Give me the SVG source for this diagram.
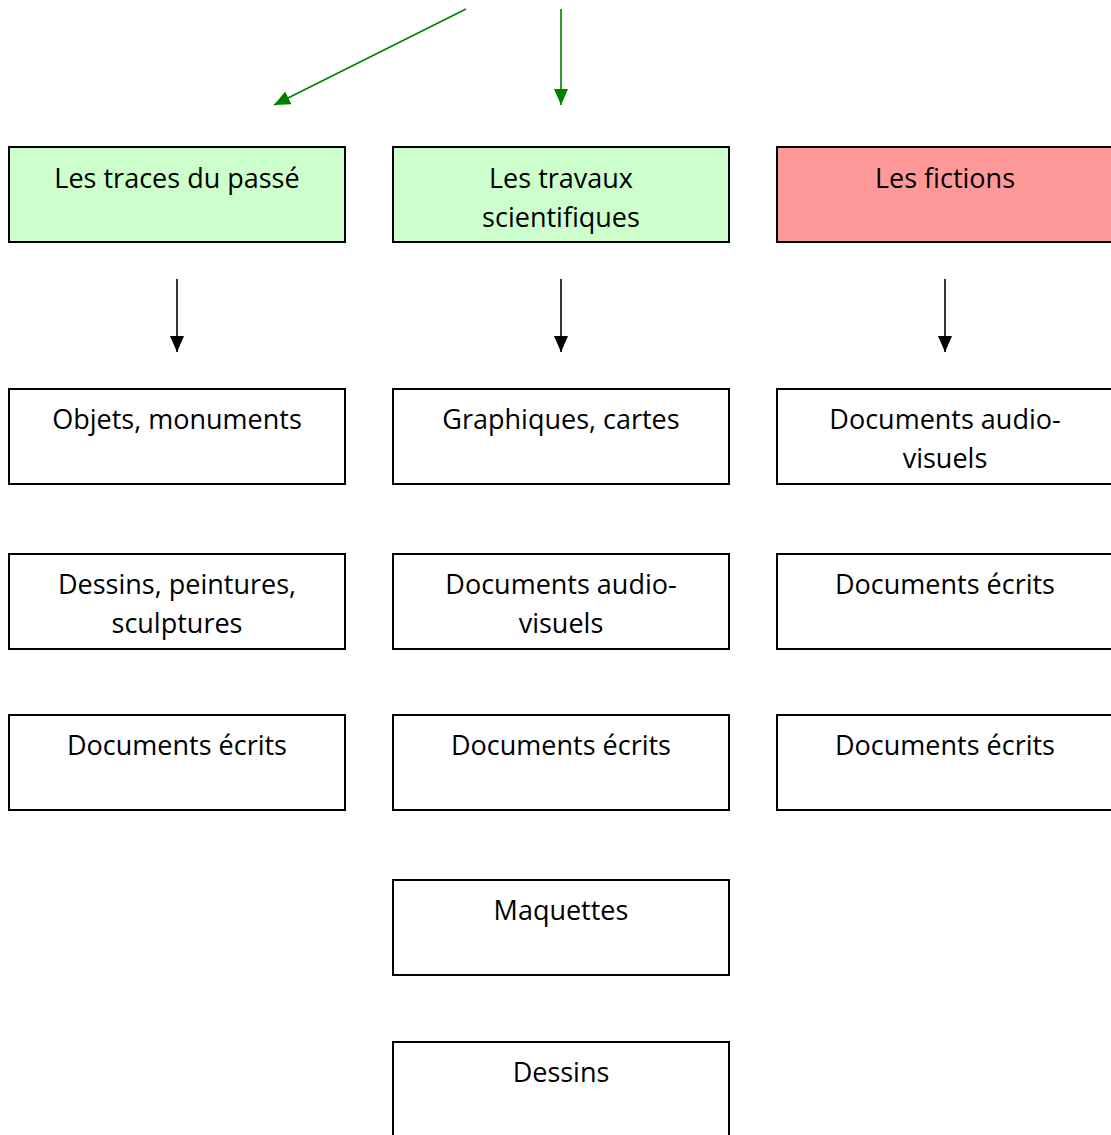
<svg xmlns="http://www.w3.org/2000/svg" width="1111" height="1135" viewBox="0 0 1111 1135">
<style>
.box{stroke:#000;stroke-width:2;fill:#fff}
.g{fill:#ccffcc}
.r{fill:#ff9999}
text{font-family:"Open Sans","Liberation Sans",sans-serif;font-size:27px;fill:#000;text-anchor:middle}
.k{stroke:#000;stroke-width:1.6;fill:none}
.gr{stroke:#008000;stroke-width:1.6;fill:none}
</style>
<defs>
<marker id="ak" markerUnits="userSpaceOnUse" markerWidth="18" markerHeight="16" refX="16" refY="7" orient="auto"><path d="M0,0 L16,7 L0,14 Z" fill="#000"/></marker>
<marker id="ag" markerUnits="userSpaceOnUse" markerWidth="18" markerHeight="16" refX="16" refY="7" orient="auto"><path d="M0,0 L16,7 L0,14 Z" fill="#008000"/></marker>
</defs>
<rect width="1111" height="1135" fill="#fff"/>
<g id="connectors">
<line class="gr" x1="466" y1="9" x2="274" y2="105" marker-end="url(#ag)"/>
<line class="gr" x1="561" y1="9" x2="561" y2="105" marker-end="url(#ag)"/>
<line class="k" x1="177" y1="279" x2="177" y2="352" marker-end="url(#ak)"/>
<line class="k" x1="561" y1="279" x2="561" y2="352" marker-end="url(#ak)"/>
<line class="k" x1="945" y1="279" x2="945" y2="352" marker-end="url(#ak)"/>
</g>
<g id="n1"><rect class="box g" x="9" y="147" width="336" height="95"/><text x="177" y="188">Les traces du passé</text></g>
<g id="n2"><rect class="box g" x="393" y="147" width="336" height="95"/><text x="561" y="188">Les travaux</text><text x="561" y="227">scientifiques</text></g>
<g id="n3"><rect class="box r" x="777" y="147" width="340" height="95"/><text x="945" y="188">Les fictions</text></g>
<g id="n4"><rect class="box" x="9" y="389" width="336" height="95"/><text x="177" y="429">Objets, monuments</text></g>
<g id="n5"><rect class="box" x="393" y="389" width="336" height="95"/><text x="561" y="429">Graphiques, cartes</text></g>
<g id="n6"><rect class="box" x="777" y="389" width="340" height="95"/><text x="945" y="429">Documents audio-</text><text x="945" y="468">visuels</text></g>
<g id="n7"><rect class="box" x="9" y="554" width="336" height="95"/><text x="177" y="594">Dessins, peintures,</text><text x="177" y="633">sculptures</text></g>
<g id="n8"><rect class="box" x="393" y="554" width="336" height="95"/><text x="561" y="594">Documents audio-</text><text x="561" y="633">visuels</text></g>
<g id="n9"><rect class="box" x="777" y="554" width="340" height="95"/><text x="945" y="594">Documents écrits</text></g>
<g id="n10"><rect class="box" x="9" y="715" width="336" height="95"/><text x="177" y="755">Documents écrits</text></g>
<g id="n11"><rect class="box" x="393" y="715" width="336" height="95"/><text x="561" y="755">Documents écrits</text></g>
<g id="n12"><rect class="box" x="777" y="715" width="340" height="95"/><text x="945" y="755">Documents écrits</text></g>
<g id="n13"><rect class="box" x="393" y="880" width="336" height="95"/><text x="561" y="920">Maquettes</text></g>
<g id="n14"><rect class="box" x="393" y="1042" width="336" height="100"/><text x="561" y="1082">Dessins</text></g>
</svg>
